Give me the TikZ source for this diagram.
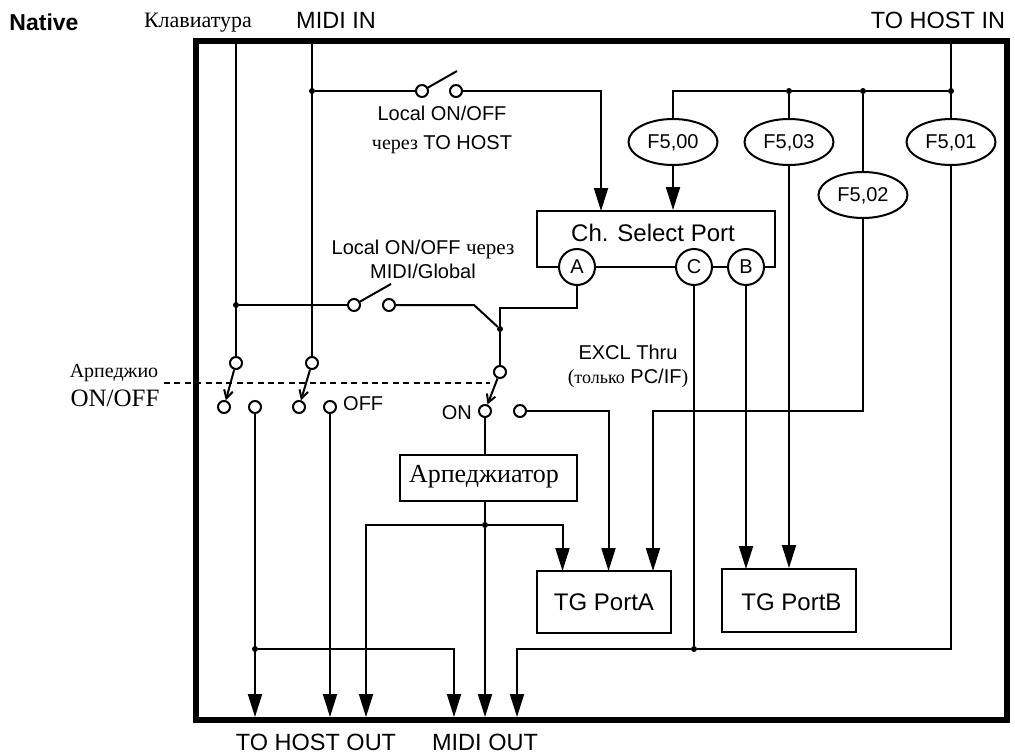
\documentclass[tikz,border=0pt]{standalone}
\usepackage{fontspec}
\setmainfont{Liberation Sans}
\newfontfamily\rufont{Liberation Serif}
\usetikzlibrary{shapes.geometric, arrows.meta, positioning, calc}

\begin{document}
\begin{tikzpicture}[
    x=1pt, y=-1pt,
    wire/.style={line width=2pt},
    arrow/.style={wire, -{Triangle[length=23pt, width=14pt]}},
    lever/.style={wire, -{Straight Barb[length=8pt, width=9pt]}},
    gang/.style={line width=2pt, dash pattern=on 6pt off 4.4pt},
    frame/.style={rectangle, draw, line width=6pt, minimum width=810.5pt, minimum height=678.5pt},
    box/.style={rectangle, draw, line width=2pt, fill=white, inner sep=0pt},
    port/.style={circle, draw, line width=2pt, fill=white, inner sep=0pt, minimum size=36pt, font=\fontsize{20}{24}\selectfont},
    sysex/.style={ellipse, draw, line width=2pt, fill=white, inner sep=0pt, text depth=0pt, minimum width=89pt, minimum height=46pt, font=\fontsize{20}{24}\selectfont},
    contact/.style={circle, draw, line width=2pt, fill=white, inner sep=0pt, minimum size=12pt},
    joint/.style={circle, fill=black, inner sep=0pt, minimum size=6pt},
    big/.style={inner sep=0pt, font=\fontsize{23.5}{28}\selectfont},
    boxlab/.style={inner sep=0pt, font=\fontsize{24}{28}\selectfont},
    small/.style={inner sep=0pt, align=center, font=\fontsize{20}{24}\selectfont}
]
\useasboundingbox (0,0) rectangle (1015,755);
\node[frame] (frame) at (601.25,380.25) {};
% outer labels
\node[big, font=\fontsize{23}{28}\selectfont\bfseries] (native) at (44,22) {Native};
\node[small, font=\fontsize{22}{28}\selectfont\rufont] (keylab) at (198,23) {Клавиатура};
\node[big] (midilab) at (336,20) {MIDI IN};
\node[big] (hostlab) at (938,20) {TO HOST IN};
\node[big] (hostout) at (316,742) {TO HOST OUT};
\node[big] (midiout) at (485,742) {MIDI OUT};
\node[small, font=\fontsize{20}{24}\selectfont\rufont] (arplab) at (114,373) {Арпеджио};
\node[small, font=\fontsize{25}{28}\selectfont\rufont] (arplab2) at (115,398) {ON/OFF};
% blocks
\node[box, minimum width=238pt, minimum height=56pt] (csp) at (656,239) {};
\node[boxlab] (csplab) at (653,233) {Ch. Select Port};
\node[port] (porta) at (577,267) {A};
\node[port] (portc) at (694,267) {C};
\node[port] (portb) at (746,267) {B};
\node[box, minimum width=177pt, minimum height=46pt] (arp) at (488.5,478) {};
\node[boxlab, font=\fontsize{26}{28}\selectfont\rufont] (arpname) at (484,477) {Арпеджиатор};
\node[box, minimum width=134pt, minimum height=62pt] (tga) at (604,602) {};
\node[boxlab] (tgalab) at (604,602) {TG PortA};
\node[box, minimum width=134pt, minimum height=63pt] (tgb) at (789,600.5) {};
\node[boxlab] (tgblab) at (791.5,602) {TG PortB};
\node[sysex] (f00) at (673,142) {F5,00};
\node[sysex] (f03) at (789,142) {F5,03};
\node[sysex] (f01) at (951,142) {F5,01};
\node[sysex] (f02) at (863,195) {F5,02};
% switches
\node[contact] (swa) at (422,91) {};
\node[contact] (swb) at (456,91) {};
\node[contact] (swc) at (354,305) {};
\node[contact] (swd) at (389,305) {};
\node[contact] (kbup) at (236,363) {};
\node[contact] (kbon) at (224,407) {};
\node[contact] (kboff) at (255,407) {};
\node[contact] (miup) at (312,363) {};
\node[contact] (mion) at (299,407) {};
\node[contact] (mioff) at (330,407) {};
\node[contact] (arup) at (500,372) {};
\node[contact] (aron) at (485,411) {};
\node[contact] (aroff) at (520,411) {};
\coordinate (swatip) at (457,71);
\coordinate (swctip) at (391,284);
% junctions
\node[joint] (jmidi) at (312,91) {};
\node[joint] (jkey) at (236,305) {};
\node[joint] (jf03) at (789,91) {};
\node[joint] (jf02) at (863,91) {};
\node[joint] (jhost) at (951,91) {};
\node[joint] (jarp) at (500,329) {};
\node[joint] (jbus) at (485,525) {};
\node[joint] (jkbout) at (255,649) {};
\node[joint] (jc) at (694,649) {};
% free ends
\coordinate (keytop) at (236,41);
\coordinate (miditop) at (312,41);
\coordinate (hosttop) at (951,41);
\coordinate (cspin) at (601,211);
\coordinate (bendd) at (474,305);
\coordinate (benda) at (500,307.5);
\coordinate (bendf) at (653,411);
\coordinate (gangl) at (164,383);
\coordinate (gangr) at (490,383);
\coordinate (tgain) at (562.5,571);
\coordinate (tgain2) at (608.5,571);
\coordinate (tgain3) at (653,571);
\coordinate (tgbin) at (746,569);
\coordinate (out1) at (255,717);
\coordinate (out2) at (330,717);
\coordinate (out3) at (366,717);
\coordinate (out4) at (454,717);
\coordinate (out5) at (485,717);
\coordinate (out6) at (517,717);
% wires
\draw[wire] (keytop) -- (kbup);
\draw[wire] (miditop) -- (miup);
\draw[wire] (hosttop) -- (f01);
\draw[wire] (jmidi) -- (swa);
\draw[wire] (swa) -- (swatip);
\draw[arrow] (swb) -| (cspin);
\draw[wire] (jkey) -- (swc);
\draw[wire] (swc) -- (swctip);
\draw[wire] (swd) -- (bendd) -- (jarp);
\draw[wire] (porta) |- (benda) -- (jarp);
\draw[wire] (jarp) -- (arup);
\draw[wire] (f00) |- (jf03);
\draw[wire] (jf03) -- (jf02) -- (jhost);
\draw[wire] (jf03) -- (f03);
\draw[wire] (jf02) -- (f02);
\draw[arrow] (f00) -- (f00 |- csp.north);
\draw[lever] (kbup) -- (kbon);
\draw[lever] (miup) -- (mion);
\draw[lever] (arup) -- (aron);
\draw[gang] (gangl) -- (gangr);
\draw[wire] (aron) -- (aron |- arp.north);
\draw[wire] (aron |- arp.south) -- (jbus);
\draw[arrow] (jbus) -- (out5);
\draw[arrow] (jbus) -| (out3);
\draw[arrow] (jbus) -| (tgain);
\draw[arrow] (aroff) -| (tgain2);
\draw[arrow] (f02) |- (bendf) -- (tgain3);
\draw[arrow] (portb) -- (tgbin);
\draw[arrow] (f03) -- (f03 |- tgb.north);
\draw[arrow] (kboff) -- (out1);
\draw[arrow] (mioff) -- (out2);
\draw[arrow] (jkbout) -| (out4);
\draw[wire] (portc) -- (jc);
\draw[wire] (f01) |- (jc);
\draw[arrow] (jc) -| (out6);
% inner labels
\node[small] (loca) at (442,130) {Local ON/OFF\\[5pt]{\rufont через} TO HOST};
\node[small] (locb) at (423,259.5) {Local ON/OFF {\rufont\fontsize{21}{24}\selectfont через}\\MIDI/Global};
\node[small] (excl) at (628,366) {EXCL Thru\\{\rufont (\fontsize{18}{20}\selectfont только} PC/IF{\rufont )}};
\node[small, anchor=west] (offlab) at (343,404) {OFF};
\node[small, anchor=east] (onlab) at (472,413) {ON};
\end{tikzpicture}
\end{document}
